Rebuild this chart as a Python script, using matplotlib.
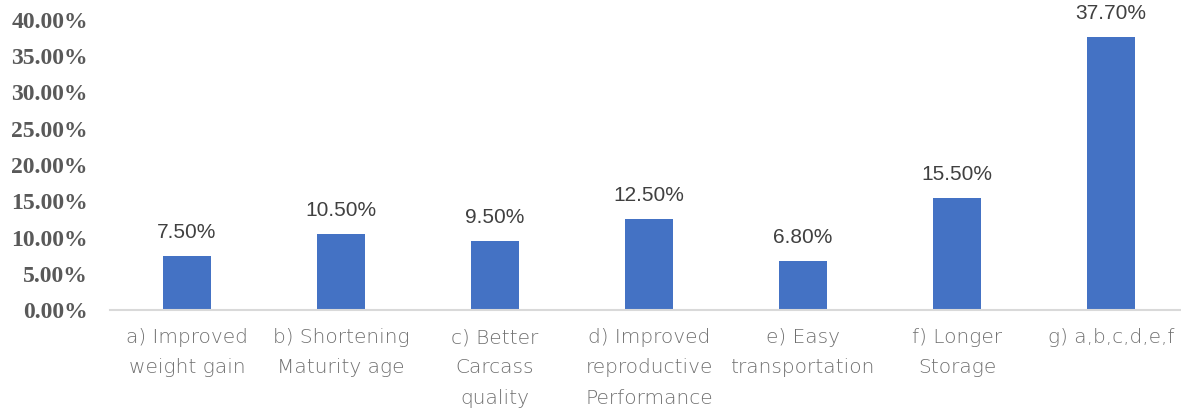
import matplotlib.pyplot as plt
import numpy as np

categories = ["a) Improved\nweight gain", "b) Shortening\nMaturity age", "c) Better\nCarcass\nquality",
              "d) Improved\nreproductive\nPerformance", "e) Easy\ntransportation", "f) Longer\nStorage",
              "g) a,b,c,d,e,f"]
values = [7.5, 10.5, 9.5, 12.5, 6.8, 15.5, 37.7]
yticks = [0, 5, 10, 15, 20, 25, 30, 35, 40]

fig = plt.figure(figsize=(11.81, 4.17), dpi=100)
ax = fig.add_axes([110 / 1181, (417 - 310) / 417, 1 - 110 / 1181 + 0.006, 290 / 417])

x = np.arange(len(values))
bars = ax.bar(x, values, width=0.31, color='#4472C4', zorder=2)

for xi, v in zip(x, values):
    ax.annotate("%.2f%%" % v, (xi, v), xytext=(0, 10), textcoords='offset points',
                ha='center', va='bottom', fontsize=15, color='#404040', family='Liberation Sans')

ax.set_ylim(0, 40)
ax.set_xlim(-0.5, 6.5)
ax.set_yticks(yticks)
ax.set_yticklabels(["%.2f%%" % t for t in yticks], fontsize=17, fontweight='bold',
                   color='#595959', family='Liberation Serif')
ax.set_xticks(x)
ax.set_xticklabels(categories, fontsize=14.5, color='#707070', family='DejaVu Sans',
                   fontweight='light', linespacing=1.75, va='top')
ax.tick_params(axis='both', length=0)
ax.tick_params(axis='x', pad=13)
ax.tick_params(axis='y', pad=16)

for s in ['top', 'right', 'left']:
    ax.spines[s].set_visible(False)
ax.spines['bottom'].set_color('#D9D9D9')
ax.spines['bottom'].set_linewidth(1.5)

fig.savefig('out.png', dpi=100)
